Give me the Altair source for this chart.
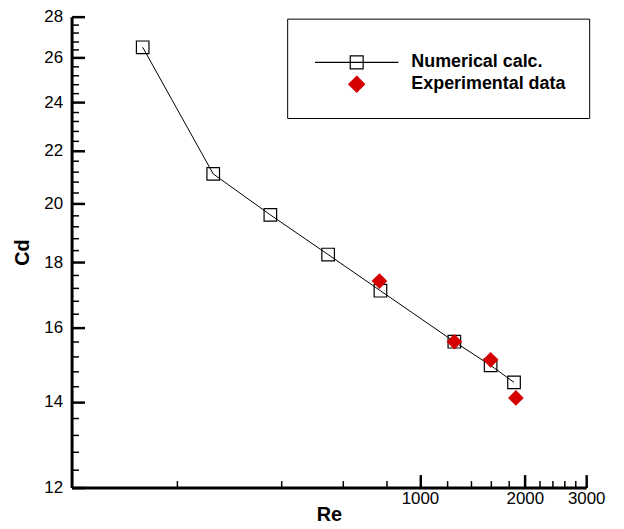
import altair as alt
import pandas as pd

# ---- data ----
re_num = [160, 255, 372, 545, 770, 1255, 1595, 1862]
cd_num = [26.5, 21.1, 19.6, 18.25, 17.1, 15.6, 14.95, 14.5]
re_exp = [765, 1255, 1595, 1885]
cd_exp = [17.4, 15.6, 15.1, 14.1]
series_names = ["Numerical calc.", "Experimental data"]

# ---- axis ticks ----
x_domain = [100, 3000]
y_domain = [12, 28]
x_major = [1000, 2000, 3000]
x_minor = [200, 400, 600, 800, 1200, 1400, 1600, 1800, 2200, 2400, 2600, 2800]
y_major = [12, 14, 16, 18, 20, 22, 24, 26, 28]
y_minor = [12.4, 12.8, 13.2, 13.6, 14.4, 14.8, 15.2, 15.6, 16.4, 16.8, 17.2, 17.6,
           18.4, 18.8, 19.2, 19.6, 20.4, 20.8, 21.2, 21.6, 22.4, 22.8, 23.2, 23.6,
           24.4, 24.8, 25.2, 25.6, 26.4, 26.8, 27.2, 27.6]

RED = "#d40000"
FONT = "Liberation Sans"

num_df = pd.DataFrame({"re": re_num, "cd": cd_num})
exp_df = pd.DataFrame({"re": re_exp, "cd": cd_exp})
legend_df = pd.DataFrame({"series": series_names})

xs = alt.Scale(type="log", domain=x_domain, nice=False)
ys = alt.Scale(type="log", domain=y_domain, nice=False, zero=False)


def ax(orient, **kw):
    base = dict(orient=orient, grid=False, domain=False, ticks=False, labels=False, title="")
    base.update(kw)
    return alt.Axis(**base)


# domain lines + titles
ax_x_dom = ax("bottom", domain=True, domainColor="black", domainWidth=3,
              title="Re", titleFont=FONT, titleFontSize=20, titleFontWeight="bold",
              titleColor="black", titlePadding=17)
ax_y_dom = ax("left", domain=True, domainColor="black", domainWidth=3,
              title="Cd", titleFont=FONT, titleFontSize=20, titleFontWeight="bold",
              titleColor="black", titlePadding=39)
# major ticks (inward) with labels
ax_x_maj = ax("bottom", ticks=True, tickSize=13, tickWidth=2.5, tickColor="black", offset=-13,
              labels=True, values=x_major, format="d", labelFont=FONT, labelFontSize=17,
              labelColor="black", labelPadding=3, labelFlush=False, labelOverlap=False)
ax_y_maj = ax("left", ticks=True, tickSize=13, tickWidth=2.5, tickColor="black", offset=-13,
              labels=True, values=y_major, format="d", labelFont=FONT, labelFontSize=17,
              labelColor="black", labelPadding=9, labelFlush=False, labelOverlap=False)
# minor ticks (inward)
ax_x_min = ax("bottom", ticks=True, tickSize=7, tickWidth=1.5, tickColor="black", offset=-7,
              values=x_minor)
ax_y_min = ax("left", ticks=True, tickSize=7, tickWidth=1.5, tickColor="black", offset=-7,
              values=y_minor)

line = alt.Chart(num_df).mark_line(color="black", strokeWidth=1).encode(
    x=alt.X("re:Q", scale=xs, axis=ax_x_dom),
    y=alt.Y("cd:Q", scale=ys, axis=ax_y_dom),
)

squares = alt.Chart(num_df).mark_point(
    shape="square", size=160, filled=False, color="black", strokeWidth=1.2, opacity=1
).encode(
    x=alt.X("re:Q", scale=xs, axis=ax_x_maj),
    y=alt.Y("cd:Q", scale=ys, axis=ax_y_maj),
)

diamonds = alt.Chart(exp_df).mark_point(
    shape="diamond", size=250, filled=True, color=RED, opacity=1
).encode(
    x=alt.X("re:Q", scale=xs, axis=ax_x_min),
    y=alt.Y("cd:Q", scale=ys, axis=ax_y_min),
)

num_symbol = "M-42,0H42M-6.5,-6.5H6.5V6.5H-6.5Z"
exp_symbol = "M0,-8L8,0L0,8L-8,0Z"

leg = alt.Legend(
    orient="none", legendX=217, legendY=2, direction="vertical",
    fillColor="white", strokeColor="black", padding=23,
    title=".", titleOpacity=0, titleFontSize=8, titlePadding=4,
    labelFont=FONT, labelFontSize=18, labelFontWeight="bold", labelColor="black",
    labelLimit=400, symbolSize=4, symbolStrokeWidth=1.2,
    symbolOffset=38, labelOffset=46, rowPadding=2,
)

legend_layer = alt.Chart(legend_df).transform_filter("false").mark_point(
    filled=True, opacity=1, strokeWidth=1.2
).encode(
    shape=alt.Shape("series:N", scale=alt.Scale(domain=series_names, range=[num_symbol, exp_symbol]), legend=leg),
    fill=alt.Fill("series:N", scale=alt.Scale(domain=series_names, range=["transparent", RED]), legend=leg),
    stroke=alt.Stroke("series:N", scale=alt.Scale(domain=series_names, range=["black", RED]), legend=leg),
)

chart = alt.layer(line, squares, diamonds, legend_layer).resolve_axis(
    x="independent", y="independent"
).properties(
    width=518, height=474,
    autosize=alt.AutoSizeParams(type="none"),
    padding={"left": 64, "top": 7, "right": 30, "bottom": 40},
    background="white",
).configure_view(stroke="transparent")

chart.save("out.html", embed_options={"renderer": "svg", "actions": False})
